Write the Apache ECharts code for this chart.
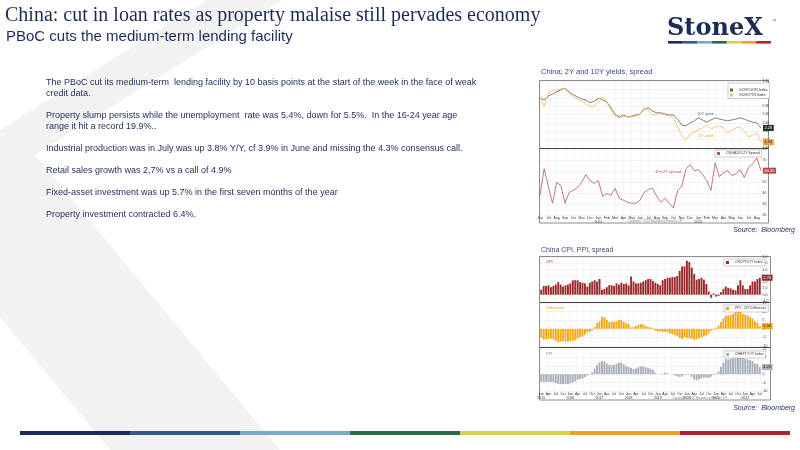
<!DOCTYPE html>
<html>
<head>
<meta charset="utf-8">
<script src="https://cdn.jsdelivr.net/npm/echarts@6/dist/echarts.min.js"></script>
<style>
  html, body { margin: 0; padding: 0; background: #fff; }
  #slide { width: 800px; height: 450px; }
</style>
</head>
<body>
<div id="slide"></div>
<script>
// --- yields chart (half-monthly points, Jun 2020 - Aug 2022) ---
var yieldMonths = ["Jun 20", "Jul 20", "Aug 20", "Sep 20", "Oct 20", "Nov 20", "Dec 20",
  "Jan 21", "Feb 21", "Mar 21", "Apr 21", "May 21", "Jun 21", "Jul 21", "Aug 21", "Sep 21",
  "Oct 21", "Nov 21", "Dec 21", "Jan 22", "Feb 22", "Mar 22", "Apr 22", "May 22", "Jun 22",
  "Jul 22", "Aug 22"];
var cnY10 = [2.99, 2.95, 3.04, 3.09, 3.14, 3.19, 3.23, 3.14, 3.07, 3.02,
  2.97, 2.95, 2.88, 2.92, 2.99, 2.95, 2.90, 2.76, 2.61, 2.54,
  2.59, 2.54, 2.56, 2.59, 2.61, 2.73, 2.76, 2.68, 2.64, 2.64,
  2.61, 2.59, 2.59, 2.49, 2.35, 2.33, 2.40, 2.45, 2.52, 2.47,
  2.42, 2.47, 2.52, 2.49, 2.47, 2.45, 2.47, 2.49, 2.52, 2.49,
  2.45, 2.42, 2.40, 2.28];
var cnY2 = [3.02, 2.80, 3.14, 3.16, 3.19, 3.21, 3.23, 3.09, 3.02, 2.97,
  2.92, 2.85, 2.80, 2.78, 2.97, 3.02, 2.90, 2.71, 2.56, 2.52,
  2.56, 2.54, 2.54, 2.56, 2.61, 2.76, 2.71, 2.59, 2.61, 2.61,
  2.59, 2.56, 2.52, 2.30, 2.09, 1.99, 2.13, 2.18, 2.23, 2.28,
  2.35, 2.25, 2.30, 2.33, 2.28, 2.16, 2.23, 2.28, 2.30, 2.21,
  2.06, 2.11, 2.16, 1.94];
var spread10y2y = [37.9, 62.1, 46.0, 30.7, 49.6, 46.9, 30.7, 40.6, 42.4, 45.1,
  49.6, 56.7, 51.3, 48.7, 51.3, 37.0, 39.7, 37.9, 44.2, 35.2,
  33.4, 31.6, 30.7, 30.7, 33.4, 40.6, 43.3, 44.2, 37.0, 31.6,
  35.2, 30.7, 26.3, 42.4, 46.0, 62.1, 65.7, 60.3, 61.2, 56.7,
  51.3, 42.4, 67.5, 54.9, 58.5, 60.3, 55.8, 57.6, 61.2, 54.0,
  63.0, 66.6, 71.9, 60.3];

// --- CPI / PPI chart (monthly, Jan 2015 - Jul 2022) ---
var monthNames = ["Jan", "Feb", "Mar", "Apr", "May", "Jun", "Jul", "Aug", "Sep", "Oct", "Nov", "Dec"];
var cpiYears = ["2015", "2016", "2017", "2018", "2019", "2020", "2021", "2022"];
var cpi = [0.8, 1.4, 1.4, 1.5, 1.2, 1.4, 1.6, 2.0, 1.6, 1.3, 1.5, 1.6,
  1.8, 2.3, 2.3, 2.3, 2.0, 1.9, 1.8, 1.3, 1.9, 2.1, 2.3, 2.1,
  2.5, 0.8, 0.9, 1.2, 1.5, 1.5, 1.4, 1.8, 1.6, 1.9, 1.7, 1.8,
  1.5, 2.9, 2.1, 1.8, 1.8, 1.9, 2.1, 2.3, 2.5, 2.5, 2.2, 1.9,
  1.7, 1.5, 2.3, 2.5, 2.7, 2.7, 2.8, 2.8, 3.0, 3.8, 4.5, 4.5,
  5.4, 5.2, 4.3, 3.3, 2.4, 2.5, 2.7, 2.4, 1.7, 0.5, -0.5, 0.2,
  -0.3, -0.2, 0.4, 0.9, 1.3, 1.1, 1.0, 0.8, 0.7, 1.5, 2.3, 1.5,
  0.9, 0.9, 1.5, 2.1, 2.1, 2.5, 2.7];
var ppiCpiGap = [-5.1, -6.2, -6.0, -6.1, -5.8, -6.2, -7.0, -7.9, -7.5, -7.2, -7.4, -7.5,
  -7.1, -7.2, -6.6, -5.7, -4.8, -4.5, -3.5, -2.1, -1.8, -0.9, 1.0, 3.4,
  4.4, 7.0, 6.7, 5.2, 4.0, 4.0, 4.1, 4.5, 5.3, 5.0, 4.1, 3.1,
  2.8, 0.8, 1.0, 1.6, 2.3, 2.8, 2.5, 1.8, 1.1, 0.8, 0.5, -1.0,
  -1.6, -1.4, -1.9, -1.6, -2.1, -2.7, -3.1, -3.6, -4.2, -5.4, -5.9, -5.0,
  -5.3, -5.6, -5.8, -6.4, -6.1, -5.5, -5.1, -4.4, -3.8, -2.6, -1.0, -0.6,
  0.6, 1.9, 4.0, 5.9, 7.7, 7.7, 8.0, 8.7, 10.0, 12.0, 10.6, 8.8,
  8.2, 7.9, 6.8, 5.9, 4.3, 3.6, 1.5];
var ppi = [-4.3, -4.8, -4.6, -4.6, -4.6, -4.8, -5.4, -5.9, -5.9, -5.9, -5.9, -5.9,
  -5.3, -4.9, -4.3, -3.4, -2.8, -2.6, -1.7, -0.8, 0.1, 1.2, 3.3, 5.5,
  6.9, 7.8, 7.6, 6.4, 5.5, 5.5, 5.5, 6.3, 6.9, 6.9, 5.8, 4.9,
  4.3, 3.7, 3.1, 3.4, 4.1, 4.7, 4.6, 4.1, 3.6, 3.3, 2.7, 0.9,
  0.1, 0.1, 0.4, 0.9, 0.6, 0.0, -0.3, -0.8, -1.2, -1.6, -1.4, -0.5,
  0.1, -0.4, -1.5, -3.1, -3.7, -3.0, -2.4, -2.0, -2.1, -2.1, -1.5, -0.4,
  0.3, 1.7, 4.4, 6.8, 9.0, 8.8, 9.0, 9.5, 10.7, 13.5, 12.9, 10.3,
  9.1, 8.8, 8.3, 8.0, 6.4, 6.1, 4.2];

// slide text
var bodyLines = [
  ["The PBoC cut its medium-term  lending facility by 10 basis points at the start of the week in the face of weak", "credit data."],
  ["Property slump persists while the unemployment  rate was 5.4%, down for 5.5%.  In the 16-24 year age", "range it hit a record 19.9%.."],
  ["Industrial production was in July was up 3.8% Y/Y, cf 3.9% in June and missing the 4.3% consensus call."],
  ["Retail sales growth was 2,7% vs a call of 4.9%"],
  ["Fixed-asset investment was up 5.7% in the first seven months of the year"],
  ["Property investment contracted 6.4%."]
];
var brandColors = ["#1f2a5a", "#34598a", "#7ba7c9", "#2a6a4a", "#d9cf55", "#e9a230", "#a8282f"];

var SANS = '"Liberation Sans", Arial, sans-serif';
var SERIF = '"Liberation Serif", "Times New Roman", serif';
var NAVY = "#1f2b5b";

// categories
var cats1 = [];
yieldMonths.forEach(function (m) { cats1.push(m); cats1.push(m + " "); });
var cats2 = [];
cpiYears.forEach(function (y) {
  monthNames.forEach(function (m) { if (cats2.length < cpi.length) cats2.push(m + " " + y); });
});

function txt(text, x, y, size, color, extra) {
  var style = Object.assign({
    text: text, x: x, y: y, fill: color,
    fontSize: size, fontFamily: SANS,
    textAlign: "left", textVerticalAlign: "middle"
  }, extra || {});
  return { type: "text", z: 20, silent: true, style: style };
}

var g = [];
// background chevron
g.push({ type: "polygon", z: -20, silent: true,
  shape: { points: [[207, 0], [282, 0], [35, 155], [280, 450], [110, 450], [0, 317], [0, 130]] },
  style: { fill: "#f2f2f2" } });

// headline
g.push(txt("China: cut in loan rates as property malaise still pervades economy", 5, 16, 20, "#1c2a58", { fontFamily: SERIF }));
g.push(txt("PBoC cuts the medium-term lending facility", 6, 36.5, 15, "#1c2a58"));

// logo
g.push(txt("StoneX", 667, 29, 24, "#1c2a58", { fontFamily: '"DejaVu Serif", serif', fontWeight: "bold" }));
g.push(txt("\u2122", 772, 21, 4, "#1c2a58"));
brandColors.forEach(function (c, i) {
  g.push({ type: "rect", z: 20, silent: true, shape: { x: 668 + i * 14.7, y: 41, width: 14.7, height: 2.6 }, style: { fill: c } });
  g.push({ type: "rect", z: 20, silent: true, shape: { x: 20 + i * 110, y: 431, width: 110, height: 4 }, style: { fill: c } });
});

// body text
var yy = 83;
bodyLines.forEach(function (para) {
  para.forEach(function (line) {
    g.push(txt(line, 46, yy, 9, NAVY));
    yy += 11;
  });
  yy += 11;
});

// chart frames
g.push(txt("China; 2Y and 10Y yields, spread", 541, 71.5, 7.5, "#3b4a80"));
g.push(txt("China CPI, PPI, spread", 541, 250, 7, "#3b4a80"));
g.push(txt("Source:  Bloomberg", 795, 230, 7, NAVY, { textAlign: "right", fontStyle: "italic" }));
g.push(txt("Source:  Bloomberg", 795, 408, 7, NAVY, { textAlign: "right", fontStyle: "italic" }));
g.push({ type: "rect", z: -10, silent: true, shape: { x: 539.5, y: 80.5, width: 229, height: 142.5 }, style: { fill: "#fff", stroke: "#8c8c8c", lineWidth: 1 } });
g.push({ type: "rect", z: -10, silent: true, shape: { x: 539.5, y: 256.5, width: 231, height: 143.5 }, style: { fill: "#fff", stroke: "#8c8c8c", lineWidth: 1 } });
[[540, 148.5, 768], [540, 302.5, 770], [540, 347.5, 770]].forEach(function (s) {
  g.push({ type: "line", z: 30, silent: true, shape: { x1: s[0], y1: s[1], x2: s[2], y2: s[1] }, style: { stroke: "#444", lineWidth: 1 } });
});
g.push(txt("Copyright\u00a9 2022 Bloomberg Finance L.P.", 655, 221.5, 3, "#888", { textAlign: "center" }));
g.push(txt("Copyright\u00a9 2022 Bloomberg Finance L.P.", 700, 398.5, 3, "#888", { textAlign: "center" }));

// annotations
g.push(txt("10Y yield", 697, 114, 4, "#6b6b60"));
g.push(txt("2Y yield", 699, 136, 4, "#f0a030"));
g.push(txt("10Y-2Y spread", 655, 172, 4, "#b0585a"));
g.push(txt("CPI", 546, 262, 4, "#9a2a2c"));
g.push(txt("Difference", 546, 308, 4, "#f0a017"));
g.push(txt("PPI", 546, 354, 4, "#8a9099"));

function catAxis(gi, data, showLabels, boundaryGap, interval, fmt) {
  return {
    type: "category", gridIndex: gi, data: data, boundaryGap: boundaryGap,
    axisLine: { show: false }, axisTick: { show: false },
    axisLabel: { show: showLabels, interval: interval, fontSize: 3.5, lineHeight: 3.5, margin: 1.5, color: "#333", formatter: fmt },
    splitLine: { show: true, interval: interval, lineStyle: { color: "#ececec", width: 0.5 } }
  };
}
function valAxis(gi, min, max, step, digits) {
  return {
    type: "value", gridIndex: gi, position: "right", min: min, max: max, interval: step,
    axisLine: { show: false }, axisTick: { show: false },
    axisLabel: { fontSize: 3.5, margin: 1.5, color: "#333", formatter: function (v) { return v.toFixed(digits); } },
    splitLine: { lineStyle: { color: "#e6e6e6", width: 0.5 } }
  };
}
function lastTag(arr, bg, fg) {
  return arr.map(function (v, i) {
    if (i !== arr.length - 1) return v;
    return { value: v, label: { show: true, position: [3, 0], verticalAlign: "middle", formatter: v.toFixed(2),
      fontSize: 4, color: fg, backgroundColor: bg, padding: [1, 1.5] } };
  });
}
function tag(bg, fg) {
  return { show: true, distance: 2, fontSize: 4, color: fg, backgroundColor: bg, padding: [1, 1.5],
    formatter: function (p) { return p.value.toFixed(2); } };
}
function legend(left, top, name) {
  return { left: left, top: top, orient: "vertical", data: [name], itemWidth: 3, itemHeight: 3, itemGap: 1,
    padding: [1.5, 2], backgroundColor: "#fff", borderColor: "#999", borderWidth: 0.5, selectedMode: false,
    icon: "rect", textStyle: { fontSize: 3.5, color: "#333", padding: [0, 0, 0, 1] } };
}

var fmt1 = function (v) { var p = v.split(" "); return p[0] === "Jan" ? "Jan\n20" + p[1] : p[0]; };
var fmt2 = function (v) { var p = v.split(" "); return p[0] === "Jan" ? "Jan\n" + p[1] : p[0]; };

var chart = echarts.init(document.getElementById("slide"));
chart.setOption({
  animation: false,
  backgroundColor: "#fff",
  graphic: { elements: g },
  legend: [
    { left: 728, top: 83, orient: "vertical", data: ["GCNY10YR Index", "GCNY2YR Index"], itemWidth: 3, itemHeight: 3, itemGap: 1,
      padding: [5, 2, 1.5, 2], backgroundColor: "#fff", borderColor: "#999", borderWidth: 0.5, selectedMode: false,
      icon: "rect", textStyle: { fontSize: 3.5, color: "#333", padding: [0, 0, 0, 1] } },
    legend(715, 150, "CNGB10Y-2Y Spread"),
    legend(724, 259, "CNCPIYOY Index"),
    legend(724, 305, "PPI - CPI Difference"),
    legend(724, 351, "CHEFTYOY Index")
  ],
  grid: [
    { left: 540, top: 81, width: 221, height: 67 },
    { left: 540, top: 149, width: 221, height: 66 },
    { left: 540, top: 257, width: 221, height: 44 },
    { left: 540, top: 303, width: 221, height: 43 },
    { left: 540, top: 349, width: 221, height: 42 }
  ],
  xAxis: [
    catAxis(0, cats1, false, false, 1, fmt1),
    catAxis(1, cats1, true, false, 1, fmt1),
    catAxis(2, cats2, false, true, 2, fmt2),
    catAxis(3, cats2, false, true, 2, fmt2),
    catAxis(4, cats2, true, true, 2, fmt2)
  ],
  yAxis: [
    valAxis(0, 1.8, 3.4, 0.2, 2),
    valAxis(1, 20, 80, 10, 0),
    valAxis(2, -1, 6, 1, 1),
    valAxis(3, -10, 15, 5, 0),
    valAxis(4, -10, 15, 5, 0)
  ],
  series: [
    { name: "GCNY10YR Index", type: "line", xAxisIndex: 0, yAxisIndex: 0, data: cnY10, showSymbol: false,
      color: "#5f6652", lineStyle: { width: 0.8 }, endLabel: tag("#1e2e1e", "#fff") },
    { name: "GCNY2YR Index", type: "line", xAxisIndex: 0, yAxisIndex: 0, data: cnY2, showSymbol: false,
      color: "#f7bd5a", lineStyle: { width: 0.8 }, endLabel: tag("#e9a230", "#222") },
    { name: "CNGB10Y-2Y Spread", type: "line", xAxisIndex: 1, yAxisIndex: 1, data: spread10y2y, showSymbol: false,
      color: "#b3585a", lineStyle: { width: 0.8 }, endLabel: tag("#b3484a", "#fff") },
    { name: "CNCPIYOY Index", type: "bar", xAxisIndex: 2, yAxisIndex: 2, data: lastTag(cpi, "#9a2a2c", "#fff"),
      color: "#9a2a2c", barCategoryGap: "22%" },
    { name: "PPI - CPI Difference", type: "bar", xAxisIndex: 3, yAxisIndex: 3, data: lastTag(ppiCpiGap, "#f3a917", "#222"),
      color: "#f3a917", barCategoryGap: "22%" },
    { name: "CHEFTYOY Index", type: "bar", xAxisIndex: 4, yAxisIndex: 4, data: lastTag(ppi, "#a9afb8", "#222"),
      color: "#a9afb8", barCategoryGap: "22%" }
  ]
});
</script>
</body>
</html>
